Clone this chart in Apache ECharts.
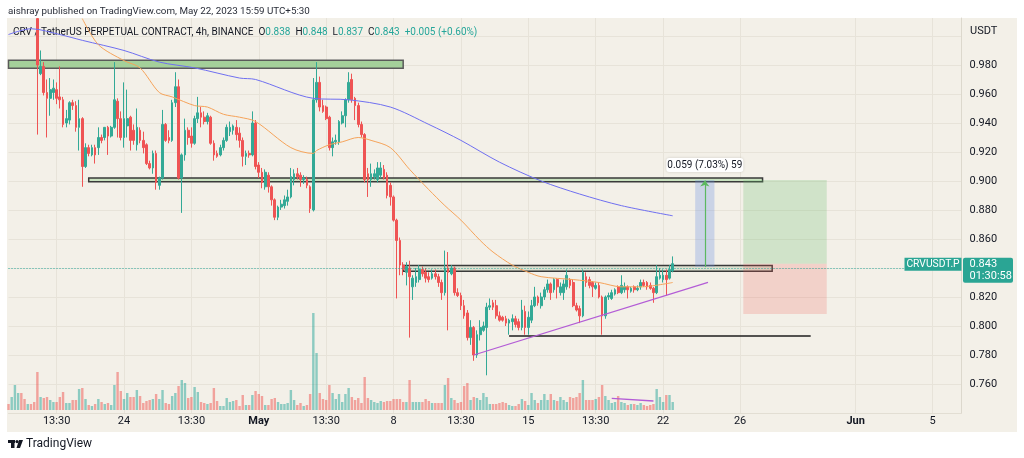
<!DOCTYPE html>
<html>
<head>
<meta charset="utf-8">
<title>CRVUSDT.P 4h</title>
<script src="https://cdn.jsdelivr.net/npm/echarts@6.0.0/dist/echarts.min.js"></script>
<style>
  html, body { margin: 0; padding: 0; background: #ffffff; }
  #panel { position: absolute; left: 7px; top: 18px; width: 1010px; height: 414px; background: #f3f0e8; }
  #main { position: absolute; left: 0; top: 0; width: 1024px; height: 458px; }
</style>
</head>
<body>
<div id="panel"></div>
<div id="main"></div>
<script>
// 4h bars, index 0 = Apr 18 01:30 (UTC+5:30)
const barCount = 298;
const tickIndex = [15, 36, 57, 78, 99, 120, 141, 162, 183, 204, 228, 264, 288];
const tickText = ['13:30', '24', '13:30', 'May', '13:30', '8', '13:30', '15', '13:30', '22', '26', 'Jun', '5'];
const priceTicksHidden = [0.84];

// first 9 bars are above the visible price range
const opens = [null, null, null, null, null, null, null, null, null,
  1.012, 0.974, 0.979, 0.961, 0.957, 0.961, 0.963, 0.958, 0.956, 0.940, 0.942,
  0.954, 0.952, 0.937, 0.943, 0.910, 0.923, 0.918, 0.923, 0.923, 0.930,
  0.930, 0.937, 0.931, 0.937, 0.955, 0.943, 0.930, 0.938, 0.944, 0.935,
  0.925, 0.935, 0.928, 0.925, 0.912, 0.909, 0.919, 0.897, 0.902, 0.939,
  0.930, 0.928, 0.954, 0.965, 0.902, 0.918, 0.935, 0.931, 0.926, 0.943,
  0.947, 0.944, 0.941, 0.944, 0.926, 0.919, 0.918, 0.923, 0.928, 0.934,
  0.935, 0.937, 0.933, 0.928, 0.917, 0.919, 0.918, 0.940, 0.911, 0.906,
  0.896, 0.904, 0.896, 0.887, 0.875, 0.882, 0.883, 0.886, 0.889, 0.901,
  0.905, 0.904, 0.901, 0.901, 0.896, 0.880, 0.956, 0.968, 0.952, 0.951,
  0.944, 0.923, 0.927, 0.927, 0.940, 0.945, 0.956, 0.970, 0.957, 0.952,
  0.939, 0.932, 0.905, 0.901, 0.903, 0.901, 0.904, 0.908, 0.904, 0.897,
  0.889, 0.873, 0.859, 0.842, 0.837, 0.840, 0.827, 0.830, 0.832, 0.839,
  0.837, 0.834, 0.833, 0.836, 0.834, 0.830, 0.823, 0.840, 0.836, 0.840,
  0.823, 0.821, 0.814, 0.809, 0.792, 0.799, 0.780, 0.794, 0.797, 0.799,
  0.813, 0.816, 0.814, 0.807, 0.806, 0.805, 0.802, 0.803, 0.805, 0.803,
  0.799, 0.810, 0.799, 0.804, 0.814, 0.820, 0.814, 0.820, 0.825, 0.829,
  0.825, 0.832, 0.823, 0.823, 0.827, 0.832, 0.830, 0.814, 0.812, 0.807,
  0.834, 0.832, 0.830, 0.826, 0.828, 0.820, 0.807, 0.820, 0.819, 0.822,
  0.827, 0.823, 0.825, 0.827, 0.824, 0.827, 0.825, 0.827, 0.830, 0.830,
  0.828, 0.826, 0.823, 0.833, 0.832, 0.835, 0.833, 0.838];
const highs = [null, null, null, null, null, null, null, null, null,
  1.012, 0.990, 0.982, 0.970, 0.971, 0.970, 0.968, 0.979, 0.958, 0.949, 0.955,
  0.956, 0.955, 0.956, 0.944, 0.926, 0.925, 0.925, 0.925, 0.937, 0.932,
  0.937, 0.938, 0.938, 0.982, 0.957, 0.948, 0.968, 0.963, 0.945, 0.939,
  0.950, 0.937, 0.934, 0.926, 0.914, 0.921, 0.921, 0.903, 0.949, 0.940,
  0.935, 0.956, 0.975, 0.970, 0.919, 0.943, 0.937, 0.937, 0.945, 0.958,
  0.951, 0.948, 0.947, 0.945, 0.928, 0.921, 0.925, 0.930, 0.939, 0.941,
  0.939, 0.942, 0.937, 0.930, 0.921, 0.921, 0.948, 0.942, 0.913, 0.909,
  0.908, 0.906, 0.897, 0.888, 0.883, 0.887, 0.890, 0.894, 0.909, 0.908,
  0.909, 0.906, 0.904, 0.903, 0.897, 0.971, 0.982, 0.972, 0.956, 0.952,
  0.945, 0.930, 0.932, 0.942, 0.948, 0.957, 0.975, 0.974, 0.958, 0.954,
  0.941, 0.933, 0.909, 0.912, 0.908, 0.913, 0.913, 0.911, 0.906, 0.899,
  0.890, 0.874, 0.861, 0.844, 0.844, 0.845, 0.835, 0.840, 0.842, 0.841,
  0.840, 0.837, 0.839, 0.839, 0.836, 0.832, 0.852, 0.851, 0.842, 0.841,
  0.826, 0.823, 0.818, 0.811, 0.804, 0.800, 0.797, 0.804, 0.803, 0.816,
  0.819, 0.818, 0.818, 0.810, 0.807, 0.807, 0.805, 0.808, 0.807, 0.805,
  0.818, 0.814, 0.810, 0.818, 0.827, 0.821, 0.823, 0.827, 0.832, 0.830,
  0.833, 0.833, 0.830, 0.832, 0.839, 0.833, 0.832, 0.816, 0.814, 0.839,
  0.837, 0.834, 0.831, 0.830, 0.830, 0.821, 0.821, 0.823, 0.825, 0.826,
  0.828, 0.835, 0.830, 0.828, 0.827, 0.828, 0.828, 0.832, 0.832, 0.831,
  0.830, 0.827, 0.842, 0.840, 0.839, 0.839, 0.842, 0.848];
const lows = [null, null, null, null, null, null, null, null, null,
  0.932, 0.973, 0.959, 0.930, 0.945, 0.956, 0.953, 0.950, 0.937, 0.937, 0.939,
  0.949, 0.934, 0.921, 0.896, 0.909, 0.917, 0.917, 0.912, 0.918, 0.926,
  0.928, 0.918, 0.930, 0.936, 0.930, 0.928, 0.923, 0.930, 0.921, 0.925,
  0.921, 0.926, 0.919, 0.911, 0.908, 0.905, 0.894, 0.894, 0.901, 0.927,
  0.926, 0.927, 0.951, 0.901, 0.878, 0.914, 0.925, 0.923, 0.925, 0.940,
  0.937, 0.939, 0.939, 0.925, 0.914, 0.916, 0.917, 0.921, 0.927, 0.931,
  0.932, 0.928, 0.923, 0.910, 0.911, 0.916, 0.917, 0.908, 0.902, 0.895,
  0.894, 0.892, 0.883, 0.873, 0.873, 0.880, 0.881, 0.883, 0.888, 0.897,
  0.901, 0.896, 0.898, 0.895, 0.878, 0.879, 0.954, 0.948, 0.947, 0.942,
  0.921, 0.917, 0.925, 0.925, 0.939, 0.937, 0.954, 0.954, 0.942, 0.937,
  0.930, 0.899, 0.889, 0.896, 0.901, 0.899, 0.902, 0.901, 0.888, 0.883,
  0.872, 0.819, 0.835, 0.835, 0.828, 0.792, 0.818, 0.827, 0.830, 0.834,
  0.830, 0.830, 0.832, 0.832, 0.827, 0.818, 0.821, 0.797, 0.835, 0.821,
  0.820, 0.811, 0.805, 0.790, 0.787, 0.776, 0.778, 0.790, 0.796, 0.766,
  0.811, 0.811, 0.805, 0.803, 0.803, 0.800, 0.794, 0.797, 0.799, 0.797,
  0.797, 0.794, 0.794, 0.802, 0.813, 0.814, 0.812, 0.818, 0.823, 0.818,
  0.823, 0.819, 0.821, 0.818, 0.825, 0.826, 0.813, 0.810, 0.802, 0.806,
  0.827, 0.826, 0.820, 0.825, 0.819, 0.794, 0.805, 0.818, 0.818, 0.821,
  0.822, 0.822, 0.823, 0.819, 0.823, 0.823, 0.824, 0.825, 0.827, 0.825,
  0.825, 0.816, 0.822, 0.832, 0.830, 0.821, 0.832, 0.837];
const closes = [null, null, null, null, null, null, null, null, null,
  0.980, 0.979, 0.961, 0.957, 0.963, 0.964, 0.957, 0.956, 0.939, 0.943, 0.954,
  0.952, 0.937, 0.943, 0.910, 0.923, 0.919, 0.923, 0.918, 0.930, 0.928,
  0.937, 0.931, 0.937, 0.956, 0.943, 0.930, 0.943, 0.943, 0.928, 0.928,
  0.937, 0.928, 0.923, 0.912, 0.909, 0.919, 0.899, 0.902, 0.939, 0.928,
  0.928, 0.954, 0.965, 0.902, 0.918, 0.935, 0.930, 0.926, 0.943, 0.947,
  0.944, 0.941, 0.945, 0.926, 0.918, 0.917, 0.923, 0.928, 0.937, 0.937,
  0.938, 0.932, 0.928, 0.917, 0.919, 0.918, 0.940, 0.910, 0.906, 0.899,
  0.906, 0.896, 0.887, 0.875, 0.882, 0.884, 0.887, 0.889, 0.903, 0.905,
  0.903, 0.901, 0.902, 0.897, 0.881, 0.956, 0.968, 0.951, 0.948, 0.943,
  0.923, 0.927, 0.928, 0.941, 0.945, 0.956, 0.968, 0.956, 0.952, 0.939,
  0.932, 0.901, 0.901, 0.905, 0.905, 0.909, 0.909, 0.902, 0.890, 0.889,
  0.873, 0.859, 0.842, 0.839, 0.841, 0.834, 0.833, 0.834, 0.839, 0.836,
  0.833, 0.832, 0.836, 0.834, 0.830, 0.823, 0.840, 0.837, 0.840, 0.823,
  0.821, 0.814, 0.807, 0.792, 0.799, 0.780, 0.794, 0.799, 0.800, 0.813,
  0.814, 0.813, 0.807, 0.804, 0.804, 0.802, 0.804, 0.805, 0.801, 0.799,
  0.811, 0.799, 0.806, 0.814, 0.820, 0.816, 0.820, 0.825, 0.829, 0.823,
  0.832, 0.827, 0.827, 0.829, 0.835, 0.828, 0.814, 0.811, 0.807, 0.837,
  0.830, 0.828, 0.827, 0.828, 0.820, 0.807, 0.820, 0.821, 0.823, 0.825,
  0.823, 0.828, 0.827, 0.825, 0.826, 0.825, 0.826, 0.830, 0.828, 0.827,
  0.826, 0.823, 0.834, 0.835, 0.835, 0.832, 0.839, 0.843];
const volumes = [6, 13, 25, 17, 17, 11, 6, 6, 8, 38,
  13, 12, 13, 10, 8, 8, 13, 18, 7, 7,
  10, 10, 21, 22, 11, 5, 4, 6, 11, 8,
  6, 7, 5, 25, 38, 19, 11, 17, 13, 13,
  20, 14, 7, 9, 10, 11, 16, 11, 20, 7,
  6, 14, 17, 24, 30, 27, 12, 13, 23, 18,
  8, 7, 6, 7, 22, 9, 4, 4, 12, 8,
  9, 10, 4, 15, 5, 5, 15, 19, 16, 14,
  5, 5, 11, 12, 8, 6, 6, 7, 20, 10,
  5, 7, 4, 5, 16, 97, 57, 17, 11, 10,
  25, 17, 11, 16, 8, 16, 22, 13, 10, 12,
  7, 33, 12, 10, 8, 7, 9, 8, 9, 9,
  11, 11, 11, 8, 8, 30, 8, 8, 8, 8,
  11, 9, 7, 7, 7, 7, 25, 32, 12, 10,
  7, 8, 24, 27, 10, 13, 12, 10, 17, 13,
  6, 6, 6, 7, 8, 7, 5, 4, 4, 6,
  11, 9, 5, 17, 10, 7, 10, 16, 10, 16,
  10, 9, 13, 10, 8, 13, 12, 13, 17, 30,
  10, 10, 10, 11, 13, 25, 14, 10, 7, 8,
  14, 8, 7, 5, 6, 6, 5, 7, 5, 4,
  5, 6, 21, 13, 8, 15, 15, 8];
// direction of the volume bars whose candles are off the top
const earlyVolDir = [-1, 1, 1, 1, -1, -1, 1, -1, -1];

// moving averages read at sampled bars: [bar index, price]
const ma200 = [[0, 1.001], [7, 1.005], [16, 1.001], [23, 0.997], [36, 0.990], [47, 0.982],
  [58, 0.978], [72, 0.971], [77, 0.970], [95, 0.957], [106, 0.956], [119, 0.951],
  [131, 0.939], [141, 0.928], [153, 0.913], [166, 0.900], [178, 0.891], [191, 0.883], [207, 0.876]];
const ema50 = [[23, 1.012], [28, 0.994], [36, 0.983], [41, 0.978], [47, 0.961], [51, 0.958],
  [58, 0.952], [62, 0.951], [67, 0.946], [72, 0.944], [77, 0.941], [88, 0.923], [95, 0.919],
  [96, 0.921], [100, 0.925], [104, 0.927], [109, 0.930], [113, 0.928], [119, 0.923],
  [125, 0.908], [131, 0.894], [136, 0.883], [141, 0.873], [147, 0.859], [151, 0.851],
  [157, 0.842], [162, 0.837], [166, 0.834], [176, 0.832], [184, 0.830], [191, 0.827],
  [197, 0.827], [207, 0.830]];

const lastPrice = 0.843;

const UP = '#33a996';
const DOWN = '#ef5454';
const FONT = 'Roboto, "Noto Sans", sans-serif';

const cats = Array.from({ length: barCount }, (_, i) => String(i));
const labelAt = {};
tickIndex.forEach((idx, k) => { labelAt[idx] = tickText[k]; });
const showTick = idx => labelAt[idx] !== undefined;

const candles = opens.map((o, i) => o == null ? ['-', '-', '-', '-'] : [o, closes[i], lows[i], highs[i]]);
const volData = volumes.map((v, i) => {
  const up = opens[i] == null ? earlyVolDir[i] > 0 : closes[i] >= opens[i];
  return { value: v, itemStyle: { color: up ? 'rgba(38,166,154,0.5)' : 'rgba(239,83,80,0.5)' } };
});

const chart = echarts.init(document.getElementById('main'), null, { renderer: 'canvas' });

const option = {
  animation: false,
  backgroundColor: 'transparent',
  textStyle: { fontFamily: FONT },
  grid: [
    { left: 8.5, right: 62.5, top: 18, bottom: 45 },
    { left: 8.5, right: 62.5, top: 300, height: 110 }
  ],
  xAxis: [
    {
      type: 'category', data: cats, boundaryGap: false, gridIndex: 0,
      axisLine: { show: true, lineStyle: { color: '#e2ded3' } },
      axisTick: { show: false },
      axisLabel: {
        interval: showTick,
        formatter: (v, idx) => {
          const t = labelAt[idx];
          return (t === 'May' || t === 'Jun') ? '{b|' + t + '}' : t;
        },
        color: '#131722', fontSize: 11, margin: 3, fontFamily: FONT,
        rich: { b: { fontWeight: 'bold', fontSize: 11, color: '#131722', fontFamily: FONT } }
      },
      splitLine: { show: true, interval: showTick, lineStyle: { color: '#e7e3d9', width: 1 } }
    },
    { type: 'category', data: cats, boundaryGap: false, gridIndex: 1, show: false }
  ],
  yAxis: [
    {
      type: 'value', position: 'right', gridIndex: 0,
      min: 0.74, max: 1.0124, interval: 0.02,
      axisLine: { show: true, lineStyle: { color: '#dcd8cd' } },
      axisTick: { show: false },
      axisLabel: {
        color: '#131722', fontSize: 11, margin: 8, fontFamily: FONT,
        formatter: v => (v < 0.75 || v > 0.99 || priceTicksHidden.some(h => Math.abs(v - h) < 1e-6)) ? '' : v.toFixed(3)
      },
      splitLine: { lineStyle: { color: '#e7e3d9' }, showMinLine: false, showMaxLine: false }
    },
    { type: 'value', gridIndex: 1, min: 0, max: 110, show: false }
  ],
  series: [
    {
      name: 'Volume', type: 'bar', xAxisIndex: 1, yAxisIndex: 1,
      data: volData, barWidth: 2.4, z: 1,
      markLine: {
        silent: true, symbol: ['none', 'none'], label: { show: false },
        data: [[{ coord: [188, 11.7], lineStyle: { color: '#b35cd6', width: 1.3, type: 'solid' } }, { coord: [201, 9] }]]
      }
    },
    {
      name: 'CRVUSDT.P', type: 'candlestick', xAxisIndex: 0, yAxisIndex: 0,
      data: candles, barWidth: 2.2, clip: true, z: 3,
      itemStyle: { color: UP, color0: DOWN, borderColor: UP, borderColor0: DOWN, borderWidth: 1 },
      markArea: {
        silent: true,
        data: [
          [{ coord: [0, 0.9832], itemStyle: { color: '#a4d09a', borderColor: '#5a5a5a', borderWidth: 1.5 } }, { coord: [123, 0.9777] }],
          [{ coord: [25, 0.9020], itemStyle: { color: '#c9e2bf', borderColor: '#3a3a3a', borderWidth: 1.5 } }, { coord: [235, 0.8995] }],
          [{ coord: [123, 0.8418], itemStyle: { color: '#dde0cf', borderColor: '#3a3a3a', borderWidth: 1.5 } }, { coord: [238, 0.8378] }],
          [{ coord: [214, 0.9006], itemStyle: { color: 'rgba(110,145,225,0.3)' } }, { coord: [220, 0.8406] }],
          [{ coord: [229, 0.9007], itemStyle: { color: 'rgba(102,187,106,0.25)' } }, { coord: [255, lastPrice] }],
          [{ coord: [229, lastPrice], itemStyle: { color: 'rgba(239,83,80,0.2)' } }, { coord: [255, 0.8082] }]
        ]
      },
      markLine: {
        silent: true, symbol: ['none', 'none'], label: { show: false },
        data: [
          { yAxis: lastPrice, lineStyle: { color: '#26a69a', type: [1, 2], width: 1 } },
          [{ coord: [156, 0.7935], lineStyle: { color: '#1e1e1e', width: 1.6, type: 'solid' } }, { coord: [250, 0.7935] }],
          [{ coord: [145, 0.7800], lineStyle: { color: '#b35cd6', width: 1.3, type: 'solid' } }, { coord: [218, 0.8300] }],
          [{ coord: [217, 0.8406], symbol: 'none', lineStyle: { color: '#5cb860', width: 1.2, type: 'solid' } },
           { coord: [217, 0.9003], symbol: 'arrow', symbolSize: [7, 6] }]
        ]
      }
    },
    {
      name: 'MA 200', type: 'line', xAxisIndex: 0, yAxisIndex: 0,
      data: ma200, smooth: 0.3, symbol: 'none', z: 4,
      lineStyle: { color: '#6f6ff0', width: 1 }
    },
    {
      name: 'EMA 50', type: 'line', xAxisIndex: 0, yAxisIndex: 0,
      data: ema50, smooth: 0.3, symbol: 'none', z: 4,
      lineStyle: { color: '#f5a35a', width: 1 }
    }
  ]
};

option && chart.setOption(option);

// labels that sit on the price scale
const arrowTop = chart.convertToPixel({ gridIndex: 0 }, [217, 0.9006]);
const lastPt = chart.convertToPixel({ gridIndex: 0 }, [0, lastPrice]);
const axisX = chart.convertToPixel({ gridIndex: 0 }, [barCount - 1, lastPrice])[0];

chart.setOption({
  graphic: [
    { type: 'text', left: 8, top: 7, style: { text: 'aishray published on TradingView.com, May 22, 2023 15:59 UTC+5:30', fill: '#2a2e39', font: '9.8px ' + FONT } },
    {
      type: 'text', left: 13, top: 27,
      style: {
        text: '{d|CRV / TetherUS PERPETUAL CONTRACT, 4h, BINANCE}  {d|O}{t|0.838}  {d|H}{t|0.848}  {d|L}{t|0.837}  {d|C}{t|0.843}  {t|+0.005 (+0.60%)}',
        font: '10px ' + FONT,
        rich: {
          d: { fill: '#131722', font: '10px ' + FONT },
          t: { fill: '#26a69a', font: '10px ' + FONT }
        }
      }
    },
    { type: 'text', left: 970, top: 26, style: { text: 'USDT', fill: '#131722', font: '11px ' + FONT } },
    { type: 'rect', z: 10, shape: { x: arrowTop[0] - 38.5, y: arrowTop[1] - 22, width: 77, height: 14, r: 3 }, style: { fill: '#ffffff', shadowBlur: 3, shadowColor: 'rgba(0,0,0,0.15)' } },
    { type: 'text', z: 11, x: arrowTop[0], y: arrowTop[1] - 15, style: { text: '0.059 (7.03%) 59', fill: '#131722', font: '10px ' + FONT, align: 'center', verticalAlign: 'middle' } },
    { type: 'rect', z: 10, shape: { x: axisX - 57, y: lastPt[1] - 6, width: 57, height: 13 }, style: { fill: '#2aa594' } },
    { type: 'text', z: 11, x: axisX - 28.5, y: lastPt[1] + 0.5, style: { text: 'CRVUSDT.P', fill: '#ffffff', font: '10.3px ' + FONT, align: 'center', verticalAlign: 'middle' } },
    { type: 'rect', z: 10, shape: { x: axisX + 1.5, y: lastPt[1] - 6, width: 50, height: 25, r: 2 }, style: { fill: '#2aa594' } },
    { type: 'text', z: 11, x: axisX + 8, y: lastPt[1] + 0.5, style: { text: '0.843', fill: '#ffffff', font: '11px ' + FONT, verticalAlign: 'middle' } },
    { type: 'text', z: 11, x: axisX + 8, y: lastPt[1] + 12.5, style: { text: '01:30:58', fill: '#ffffff', font: '11px ' + FONT, verticalAlign: 'middle' } },
    // TradingView mark + name
    { type: 'rect', shape: { x: 8, y: 440, width: 7, height: 3 }, style: { fill: '#131722' } },
    { type: 'rect', shape: { x: 11, y: 440, width: 3.5, height: 8 }, style: { fill: '#131722' } },
    { type: 'circle', shape: { cx: 17, cy: 441.6, r: 1.6 }, style: { fill: '#131722' } },
    { type: 'polygon', shape: { points: [[19, 440], [23, 440], [20, 448], [16.5, 448]] }, style: { fill: '#131722' } },
    { type: 'text', left: 26, top: 438, style: { text: 'TradingView', fill: '#131722', font: '12px ' + FONT } }
  ]
});
</script>
</body>
</html>
